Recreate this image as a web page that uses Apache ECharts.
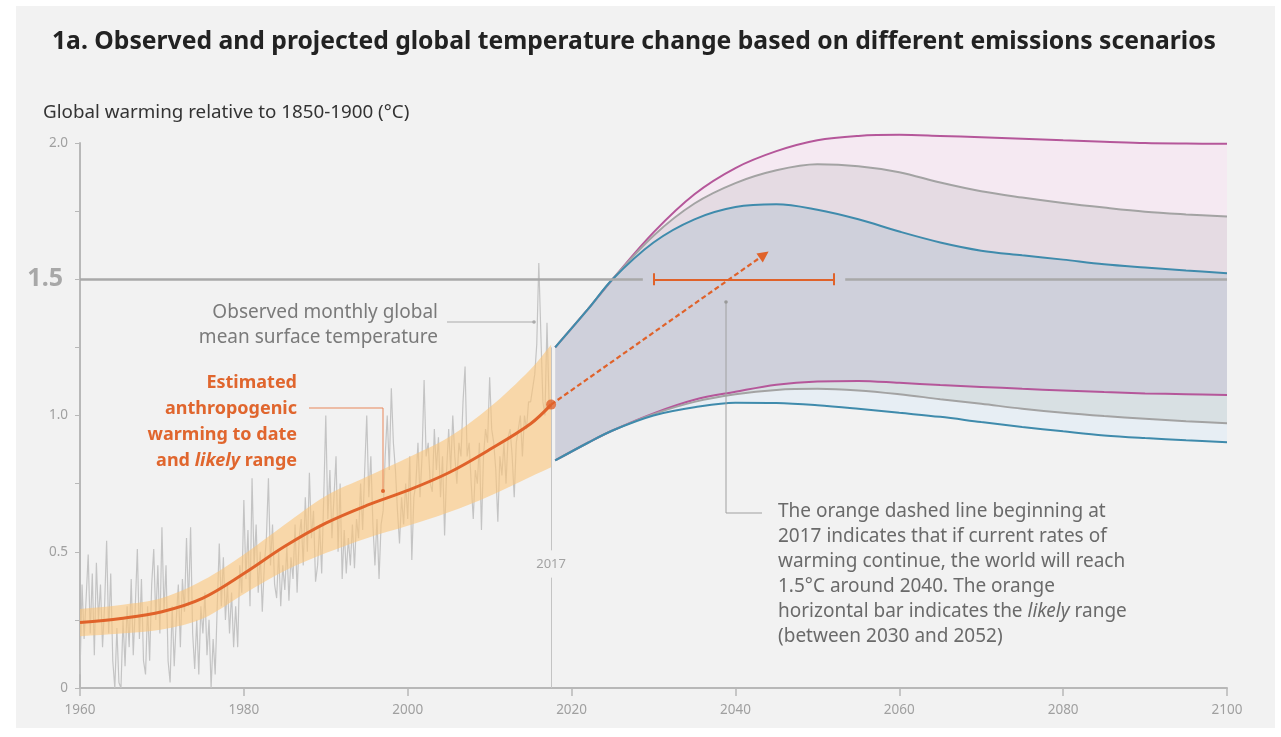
<!DOCTYPE html>
<html>
<head>
<meta charset="utf-8">
<script src="https://cdn.jsdelivr.net/npm/echarts@6/dist/echarts.min.js"></script>
<style>
  html, body { margin: 0; padding: 0; background: #fff; }
  #chart { width: 1281px; height: 737px; }
</style>
</head>
<body>
<div id="chart"></div>
<script>
// observed monthly GMST, sampled 4 times a year from 1960
const observedStart = 1960
const observedQuarterly = [
  0.05, 0.38, 0.18, 0.33,  0.49, 0.20, 0.42, 0.12,  0.46, 0.25, 0.38, 0.15,  0.30, 0.54, 0.20, 0.42,
  0.10, 0.00, 0.22, 0.02,  0.00, 0.25, 0.08, 0.30,  0.15, 0.40, 0.12, 0.30,  0.51, 0.18, 0.40, 0.10,
  0.05, 0.30, 0.10, 0.38,  0.51, 0.25, 0.45, 0.20,  0.59, 0.28, 0.45, 0.10,  0.02, 0.30, 0.08, 0.25,
  0.38, 0.15, 0.40, 0.28,  0.55, 0.30, 0.59, 0.20,  0.07, 0.25, 0.05, 0.30,  0.20, 0.35, 0.12, 0.25,
  0.00, 0.18, 0.05, 0.30,  0.53, 0.30, 0.48, 0.25,  0.38, 0.20, 0.35, 0.15,  0.30, 0.15, 0.45, 0.35,
  0.69, 0.40, 0.58, 0.30,  0.77, 0.45, 0.60, 0.35,  0.50, 0.28, 0.45, 0.55,  0.77, 0.45, 0.60, 0.38,
  0.33, 0.50, 0.30, 0.45,  0.36, 0.52, 0.32, 0.48,  0.40, 0.60, 0.35, 0.55,  0.62, 0.45, 0.70, 0.50,
  0.79, 0.55, 0.65, 0.39,  0.45, 0.60, 0.42, 0.70,  1.00, 0.62, 0.80, 0.55,  0.70, 0.85, 0.50, 0.75,
  0.40, 0.58, 0.42, 0.55,  0.45, 0.60, 0.44, 0.62,  0.55, 0.75, 0.58, 0.80,  1.00, 0.70, 0.85, 0.60,
  0.45, 0.62, 0.40, 0.60,  0.65, 0.85, 1.00, 0.80,  1.10, 0.90, 0.80, 0.65,  0.53, 0.70, 0.60, 0.75,
  0.62, 0.85, 0.47, 0.70,  0.75, 0.90, 0.70, 0.85,  1.13, 0.85, 0.90, 0.75,  0.72, 0.95, 0.80, 0.92,
  0.70, 0.85, 0.56, 0.80,  0.95, 0.80, 1.00, 0.85,  0.75, 0.90, 0.85, 1.05,  1.18, 0.85, 0.90, 0.75,
  0.62, 0.80, 0.75, 0.90,  0.58, 0.85, 0.95, 0.90,  1.14, 0.95, 0.90, 0.80,  0.61, 0.85, 0.78, 0.90,
  0.75, 0.92, 0.95, 0.85,  0.70, 0.90, 0.95, 1.00,  0.85, 1.00, 0.95, 1.05,  1.05, 1.10, 1.15, 1.26,
  1.56, 1.30, 1.05, 1.00,  1.34, 1.05
]

// estimated anthropogenic warming and likely range
const histYears = [1960, 1965, 1970, 1975, 1980, 1985, 1990, 1995, 2000, 2005, 2010, 2015, 2017.5]
const histMid = [0.24, 0.255, 0.28, 0.33, 0.42, 0.52, 0.605, 0.67, 0.725, 0.79, 0.875, 0.97, 1.04]
const histLow = [0.19, 0.20, 0.215, 0.255, 0.345, 0.43, 0.495, 0.55, 0.595, 0.645, 0.705, 0.775, 0.81]
const histHigh = [0.29, 0.305, 0.33, 0.395, 0.49, 0.60, 0.705, 0.775, 0.845, 0.92, 1.03, 1.17, 1.26]

// projected ranges
const projYears = [2018, 2022, 2025, 2030, 2035, 2040, 2045, 2050, 2055, 2060, 2065, 2070, 2075, 2080, 2085, 2090, 2095, 2100]
const blueUpper = [1.25, 1.39, 1.50, 1.635, 1.72, 1.765, 1.775, 1.755, 1.72, 1.675, 1.635, 1.605, 1.588, 1.572, 1.555, 1.543, 1.532, 1.522]
const grayUpper = [1.25, 1.39, 1.50, 1.66, 1.778, 1.853, 1.90, 1.922, 1.915, 1.893, 1.855, 1.823, 1.80, 1.78, 1.763, 1.748, 1.738, 1.73]
const magentaUpper = [1.25, 1.39, 1.50, 1.672, 1.812, 1.908, 1.97, 2.01, 2.026, 2.03, 2.026, 2.021, 2.016, 2.01, 2.005, 2.0, 1.998, 1.997]
const blueLower = [0.835, 0.90, 0.945, 1.0, 1.03, 1.047, 1.046, 1.038, 1.025, 1.01, 0.995, 0.976, 0.958, 0.942, 0.927, 0.917, 0.909, 0.902]
const grayLower = [0.835, 0.90, 0.945, 1.005, 1.05, 1.078, 1.094, 1.098, 1.092, 1.078, 1.06, 1.043, 1.025, 1.01, 0.998, 0.988, 0.979, 0.972]
const magentaLower = [0.835, 0.90, 0.945, 1.008, 1.058, 1.087, 1.113, 1.125, 1.127, 1.12, 1.112, 1.105, 1.098, 1.092, 1.086, 1.081, 1.078, 1.075]

// annotations
const target = 1.5
const likelyRange = [2030, 2052]
const targetGap = [2028.7, 2053.4]
const nowYear = 2017.5
const nowWarming = 1.04
const arrowEnd = [2043.5, 1.59]
const xTicks = [1960, 2100, 20]

const ORANGE = '#e0622a'
const SMOOTH = 0.35
const FONT = 'Noto Sans'
const pairs = (xs, ys) => xs.map((x, i) => [x, ys[i]])

let myCharts = echarts.init(document.getElementById('chart'))

const observed = observedQuarterly.map((v, i) => [observedStart + i * 0.25, v])

// filled range between two curves, smoothed the same way as the lines
const band = (xs, lower, upper, color, z) => ({
  type: 'custom', z, silent: true, clip: false,
  data: [[xs[0], lower[0]]],
  renderItem: (params, api) => {
    const lo = xs.map((x, i) => api.coord([x, lower[i]]))
    const hi = xs.map((x, i) => api.coord([x, upper[i]])).reverse()
    const dup = a => [a[0], ...a, a[a.length - 1]]
    return {
      type: 'polygon',
      shape: { points: [...dup(lo), ...dup(hi)], smooth: SMOOTH },
      style: { fill: color },
    }
  },
})
const curve = (data, color, width, z) => ({
  type: 'line', data, smooth: SMOOTH, symbol: 'none', z, clip: false,
  lineStyle: { color, width },
})

myCharts.setOption({
  animation: false,
  backgroundColor: '#fff',
  grid: { left: 80, right: 54, top: 143, bottom: 49 },
  xAxis: {
    type: 'value', min: xTicks[0], max: xTicks[1], interval: xTicks[2],
    splitLine: { show: false },
    axisLine: { lineStyle: { color: '#b8b8b8', width: 2 } },
    axisTick: { length: 8, lineStyle: { color: '#b8b8b8', width: 1.5 } },
    axisLabel: { color: '#a0a0a0', fontSize: 13.5, margin: 15, fontFamily: FONT, formatter: v => String(v) },
  },
  yAxis: {
    type: 'value', min: 0, max: 2, interval: 0.25,
    splitLine: { show: false },
    axisLine: { show: true, lineStyle: { color: '#b8b8b8', width: 2 } },
    axisTick: { show: true, length: 5, lineStyle: { color: '#b8b8b8' } },
    axisLabel: {
      color: '#a0a0a0', fontSize: 13.5, margin: 12, fontFamily: FONT,
      formatter: v => {
        if (Math.abs(v - target) < 1e-6) return '{big|1.5}'
        if (Math.abs(v * 2 - Math.round(v * 2)) > 1e-6) return ''
        return v === 0 ? '0' : v.toFixed(1)
      },
      rich: { big: { fontSize: 25, fontWeight: 'bold', color: '#a8a8a8', fontFamily: FONT, padding: [0, 5, 0, 0] } },
    },
  },
  graphic: [
    { type: 'rect', z: -100, shape: { x: 16, y: 6, width: 1259, height: 722 }, style: { fill: '#f2f2f2' } },
    { type: 'text', z: 100, x: 52, y: 42, style: {
      text: '1a. Observed and projected global temperature change based on different emissions scenarios',
      fill: '#222', font: 'bold 24.7px "Noto Sans"', verticalAlign: 'middle' } },
    { type: 'text', z: 100, x: 43, y: 113, style: {
      text: 'Global warming relative to 1850-1900 (°C)',
      fill: '#333', font: '18.8px "Noto Sans"', verticalAlign: 'middle' } },
    // observed callout
    { type: 'text', z: 100, x: 438, y: 300, style: {
      text: 'Observed monthly global\nmean surface temperature',
      fill: '#7a7a7a', font: '19px "Noto Sans"', align: 'right', verticalAlign: 'top', lineHeight: 25 } },
    { type: 'polyline', z: 100, shape: { points: [[447, 322], [534, 322]] }, style: { stroke: '#aaa', lineWidth: 1 } },
    { type: 'circle', z: 100, shape: { cx: 534, cy: 322, r: 1.8 }, style: { fill: '#aaa' } },
    // anthropogenic callout
    { type: 'text', z: 100, x: 297, y: 370, style: {
      text: 'Estimated\nanthropogenic\nwarming to date\nand {i|likely} range',
      fill: '#e0662e', font: 'bold 18px "Noto Sans"', align: 'right', verticalAlign: 'top', lineHeight: 26,
      rich: { i: { fontStyle: 'italic', fontWeight: 'bold', fontSize: 18, fill: '#e0662e', fontFamily: FONT } } } },
    { type: 'polyline', z: 100, shape: { points: [[309, 408], [383, 408], [383, 490]] }, style: { stroke: '#e8875a', lineWidth: 1, fill: null } },
    { type: 'circle', z: 100, shape: { cx: 383, cy: 491, r: 2 }, style: { fill: '#e0662e' } },
    // right callout
    { type: 'polyline', z: 100, shape: { points: [[726, 302], [726, 513], [762, 513]] }, style: { stroke: '#a0a0a0', lineWidth: 1, fill: null } },
    { type: 'circle', z: 100, shape: { cx: 726, cy: 302, r: 1.8 }, style: { fill: '#999' } },
    { type: 'text', z: 100, x: 778, y: 499, style: {
      text: 'The orange dashed line beginning at\n2017 indicates that if current rates of\nwarming continue, the world will reach\n1.5°C around 2040. The orange\nhorizontal bar indicates the {i|likely} range\n(between 2030 and 2052)',
      fill: '#6a6a6a', font: '19px "Noto Sans"', verticalAlign: 'top', lineHeight: 25,
      rich: { i: { fontStyle: 'italic', fontSize: 19, fill: '#6a6a6a', fontFamily: FONT } } } },
  ],
  series: [
    // observed monthly temperature
    { type: 'line', data: observed, symbol: 'none', z: 1, lineStyle: { color: '#c4c4c4', width: 1.2 } },
    // 2017 marker line
    {
      type: 'line', data: [], z: 1,
      markLine: {
        silent: true, symbol: 'none', label: { show: false },
        lineStyle: { color: '#c4c4c4', width: 1, type: 'solid' },
        data: [
          [{ coord: [nowYear, 0] }, { coord: [nowYear, 0.405] }],
          [{ coord: [nowYear, 0.505] }, { coord: [nowYear, 1.25] }],
        ],
      },
    },
    {
      type: 'scatter', z: 1, symbolSize: 0, data: [[nowYear, 0.455]],
      label: { show: true, position: 'inside', formatter: '2017', color: '#8f8f8f', fontSize: 13, fontFamily: FONT },
    },
    // likely range band
    band(histYears, histLow, histHigh, 'rgba(252, 196, 120, 0.6)', 2),
    // projection fills
    band(projYears, blueLower, grayLower, '#e7eef4', 2),
    band(projYears, grayLower, magentaLower, '#d8e0e3', 2),
    band(projYears, magentaLower, blueUpper, '#cfd0db', 2),
    band(projYears, blueUpper, grayUpper, '#e5dbe3', 2),
    band(projYears, grayUpper, magentaUpper, '#f5e9f2', 2),
    // 1.5 reference line and likely range bar
    {
      type: 'line', data: [], z: 3,
      markLine: {
        silent: true, symbol: 'none', label: { show: false },
        lineStyle: { color: '#a9a9a9', width: 2.5, type: 'solid' },
        data: [
          [{ coord: [xTicks[0], target] }, { coord: [targetGap[0], target] }],
          [{ coord: [targetGap[1], target] }, { coord: [xTicks[1], target] }],
          [{ coord: [likelyRange[0], target], lineStyle: { color: ORANGE, width: 2 } }, { coord: [likelyRange[1], target] }],
          [{ coord: [likelyRange[0], target - 0.022], lineStyle: { color: ORANGE, width: 2 } }, { coord: [likelyRange[0], target + 0.022] }],
          [{ coord: [likelyRange[1], target - 0.022], lineStyle: { color: ORANGE, width: 2 } }, { coord: [likelyRange[1], target + 0.022] }],
        ],
      },
    },
    // projection lines
    curve(pairs(projYears, magentaLower), '#b5579a', 2, 4),
    curve(pairs(projYears, magentaUpper), '#b5579a', 2, 4),
    curve(pairs(projYears, grayLower), '#a3a3a3', 2, 4),
    curve(pairs(projYears, grayUpper), '#a3a3a3', 2, 4),
    curve(pairs(projYears, blueLower), '#3f8bac', 2, 4),
    curve(pairs(projYears, blueUpper), '#3f8bac', 2, 4),
    // anthropogenic warming line
    curve(pairs(histYears, histMid), ORANGE, 3, 5),
    // dashed projection of current rate
    {
      type: 'line', data: [], z: 5,
      markLine: {
        silent: true, symbol: ['none', 'triangle'], symbolSize: 11, label: { show: false },
        lineStyle: { color: ORANGE, width: 2.2, type: [5, 3] },
        data: [[{ coord: [nowYear, nowWarming] }, { coord: arrowEnd }]],
      },
    },
    { type: 'scatter', z: 6, symbolSize: 10, data: [[nowYear, nowWarming]], itemStyle: { color: ORANGE } },
  ],
})
</script>
</body>
</html>
